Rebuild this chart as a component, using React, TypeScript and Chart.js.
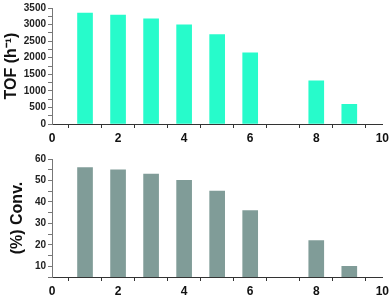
import React, { useEffect, useRef } from "react";
import { Chart, registerables } from "chart.js";

Chart.register(...registerables);

const runs = [1, 2, 3, 4, 5, 6, 8, 9];
const tofValues = [3350, 3290, 3170, 2990, 2700, 2150, 1300, 590];
const convValues = [56, 55, 53, 50, 45, 36, 22, 10];
const xTickLabels = [0, 2, 4, 6, 8, 10];

const FONT = "'Liberation Sans', Arial, sans-serif";

function makeConfig(
  values: number[],
  color: string,
  yMin: number,
  yMax: number,
  yStep: number,
  yLabelStep: number,
  title: string,
  topPad: number,
  titlePadTop: number,
  xHeight: number
): any {
  return {
    type: "bar",
    data: {
      datasets: [
        {
          data: runs.map((r, i) => ({ x: r, y: values[i] })),
          backgroundColor: color,
          borderWidth: 0,
          barThickness: 15,
        },
      ],
    },
    options: {
      animation: false,
      responsive: true,
      maintainAspectRatio: false,
      layout: { padding: { top: topPad, right: 7, left: 0, bottom: 0 } },
      plugins: { legend: { display: false }, tooltip: { enabled: false } },
      scales: {
        x: {
          type: "linear",
          min: 0,
          max: 10,
          offset: false,
          afterFit: (s: any) => {
            s.height = xHeight;
          },
          border: { display: true, color: "#333", width: 1 },
          grid: {
            display: true,
            drawOnChartArea: false,
            drawTicks: true,
            tickLength: 4,
            tickColor: "#333",
          },
          ticks: {
            stepSize: 1,
            autoSkip: false,
            maxRotation: 0,
            padding: 3,
            color: "#111",
            font: { family: FONT, size: 12, weight: "bold" },
            callback: (v: number) => (xTickLabels.includes(v) ? String(v) : ""),
          },
        },
        y: {
          min: yMin,
          max: yMax,
          afterFit: (s: any) => {
            s.width = 52;
          },
          border: { display: true, color: "#777", width: 1 },
          grid: {
            display: true,
            drawOnChartArea: false,
            drawTicks: true,
            tickLength: 4,
            tickColor: "#777",
          },
          ticks: {
            stepSize: yStep,
            autoSkip: false,
            padding: 2,
            color: "#222",
            font: { family: FONT, size: 10, weight: "bold" },
            callback: (v: number) => (v % yLabelStep === 0 ? String(v) : ""),
          },
          title: {
            display: true,
            text: title,
            color: "#111",
            padding: { top: titlePadTop, bottom: 0 },
            font: { family: FONT, size: 16, weight: "bold" },
          },
        },
      },
    },
  };
}

function ChartBox({ config }: { config: any }) {
  const ref = useRef<HTMLCanvasElement | null>(null);
  useEffect(() => {
    if (!ref.current) return;
    const chart = new Chart(ref.current, config);
    return () => chart.destroy();
  }, [config]);
  return (
    <div style={{ position: "relative", width: 392, height: 148 }}>
      <canvas ref={ref} />
    </div>
  );
}

const topConfig = makeConfig(tofValues, "#27FBCB", 0, 3500, 250, 500, "TOF (h⁻¹)", 5, 2, 24);
const bottomConfig = makeConfig(convValues, "#809C98", 5, 60, 5, 10, "(%) Conv.", 11, 8, 19);

export default function App() {
  useEffect(() => {
    document.body.style.margin = "0";
  }, []);
  return (
    <div style={{ width: 392, height: 296, background: "#fff" }}>
      <ChartBox config={topConfig} />
      <ChartBox config={bottomConfig} />
    </div>
  );
}
